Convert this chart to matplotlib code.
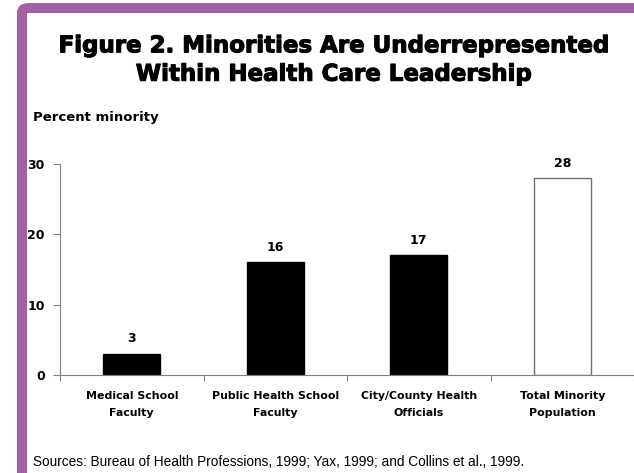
import numpy as np
import matplotlib.pyplot as plt
import matplotlib.patheffects as pe
from matplotlib.patches import Rectangle, FancyBboxPatch
from matplotlib.lines import Line2D

categories = ["Medical School\nFaculty", "Public Health School\nFaculty",
              "City/County Health\nOfficials", "Total Minority\nPopulation"]
values = [3, 16, 17, 28]
bar_colors = ["black", "black", "black", "white"]
edge_colors = ["black", "black", "black", "#707070"]
y_ticks = [0, 10, 20, 30]

plt.rcParams['font.family'] = ['Liberation Sans', 'DejaVu Sans']
heavy = ['DejaVu Sans']

fig = plt.figure(figsize=(6.34, 4.73), dpi=100)

# purple frame (left and top)
purple = "#a35fa3"
fig.patches.append(FancyBboxPatch((17 / 634, -0.2), 1.2, 1.2 - 3 / 473,
                                  boxstyle="round,pad=0,rounding_size=0.02",
                                  transform=fig.transFigure, facecolor=purple,
                                  edgecolor="none", zorder=-2))
fig.patches.append(Rectangle((27 / 634, -0.1), 1.1, 1.1 - 13 / 473,
                             transform=fig.transFigure, facecolor="white",
                             edgecolor="none", zorder=-1))
fig.lines.append(Line2D([27 / 634, 1], [1 - 13.5 / 473, 1 - 13.5 / 473],
                        transform=fig.transFigure, color="#555555",
                        linewidth=0.8, zorder=-1))

ax = fig.add_axes([60 / 634, 1 - 375 / 473, 574 / 634, 211 / 473])
ax.set_zorder(5)
ax.patch.set_alpha(0)

x = np.arange(len(values))
bars = ax.bar(x, values, width=0.4, color=bar_colors, edgecolor=edge_colors,
              linewidth=1.0)
for xi, v in zip(x, values):
    ax.text(xi, v + 1.2, str(v), ha="center", va="bottom",
            fontsize=9, fontweight="bold", family=heavy)

ax.set_xlim(-0.5, 3.5)
ax.set_ylim(0, 30)
ax.set_yticks(y_ticks)
ax.set_yticklabels([str(t) for t in y_ticks], fontsize=9, fontweight="bold",
                   family=heavy)
ax.set_xticks(np.arange(-0.5, 3.6, 1.0))
ax.set_xticklabels([])
ax.tick_params(axis="x", direction="out", length=4, color="#808080")
ax.tick_params(axis="y", direction="out", length=5, color="#808080", pad=6)
for xi, lab in zip(x, categories):
    ax.text(xi, -2.3, lab, ha="center", va="top", fontsize=7.9,
            fontweight="bold", linespacing=1.9, family=heavy)

for s in ["top", "right"]:
    ax.spines[s].set_visible(False)
ax.spines["left"].set_color("#808080")
ax.spines["bottom"].set_color("#808080")

fig.text(333 / 634, 1 - 60 / 473,
         "Figure 2. Minorities Are Underrepresented\nWithin Health Care Leadership",
         ha="center", va="center", fontsize=16.5, fontweight="bold",
         linespacing=1.3, family=heavy,
         path_effects=[pe.withStroke(linewidth=0.8, foreground="black")])
fig.text(33 / 634, 1 - 118 / 473, "Percent minority", ha="left", va="center",
         fontsize=9.5, fontweight="bold", family=heavy)
fig.text(33 / 634, 1 - 462 / 473,
         "Sources: Bureau of Health Professions, 1999; Yax, 1999; and Collins et al., 1999.",
         ha="left", va="center", fontsize=9.8)

fig.savefig("out.png", dpi=100)
